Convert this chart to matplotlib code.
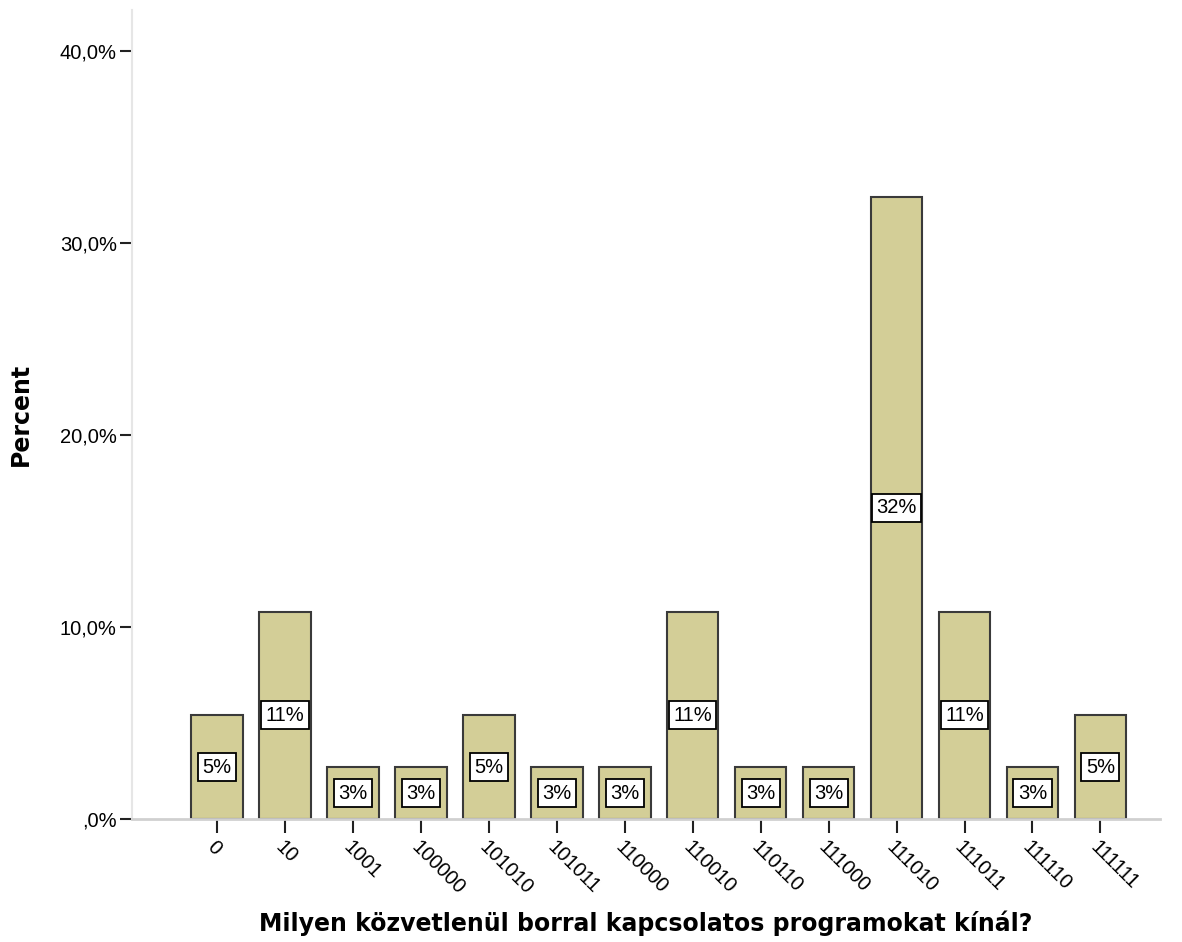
import matplotlib
matplotlib.use('Agg')
import matplotlib.pyplot as plt
from matplotlib.ticker import FuncFormatter

categories = ['0', '10', '1001', '100000', '101010', '101011', '110000',
              '110010', '110110', '111000', '111010', '111011', '111110', '111111']
percents = [5.4, 10.8, 2.7, 2.7, 5.4, 2.7, 2.7, 10.8, 2.7, 2.7, 32.4, 10.8, 2.7, 5.4]
labels = ['5%', '11%', '3%', '3%', '5%', '3%', '3%', '11%', '3%', '3%', '32%', '11%', '3%', '5%']
yticks = [0, 10, 20, 30, 40]

plt.rcParams['font.family'] = ['Liberation Sans', 'DejaVu Sans']

fig = plt.figure(figsize=(11.82, 9.42), dpi=100)
ax = fig.add_axes([0.1117, 0.1306, 0.8693, 0.8584])

x = list(range(len(categories)))
ax.bar(x, percents, width=0.76, color='#d3ce97', edgecolor='#3a3a3a', linewidth=1.5, zorder=2)

# white boxed percentage labels in the middle of each bar
for xi, p, lab in zip(x, percents, labels):
    ax.text(xi, p / 2, lab, ha='center', va='center', fontsize=14.5, zorder=3,
            bbox=dict(boxstyle='square,pad=0.22', facecolor='white', edgecolor='black', linewidth=1.3))

ax.set_xlim(-1.25, 13.87)
ax.set_ylim(0, 42.1)
ax.set_yticks(yticks)
ax.yaxis.set_major_formatter(FuncFormatter(lambda v, pos: ',0%' if v == 0 else f'{v:.1f}%'.replace('.', ',')))
ax.set_xticks(x)
ax.set_xticklabels(categories, rotation=-45, ha='left', va='top', rotation_mode='anchor')

ax.tick_params(axis='y', length=9, width=1.5, color='#222222', labelsize=14.5, pad=2)
ax.tick_params(axis='x', length=10, width=1.5, color='#222222', labelsize=14.5, pad=3)

for s in ['top', 'right']:
    ax.spines[s].set_visible(False)
ax.spines['left'].set_color('#e6e6e6')
ax.spines['bottom'].set_color('#d0d0d0')
ax.spines['left'].set_linewidth(1.5)
ax.spines['bottom'].set_linewidth(2)

ax.set_ylabel('Percent', fontsize=17, fontweight='bold', family='DejaVu Sans')
ax.yaxis.set_label_coords(-0.0963, 0.5)
ax.set_xlabel('Milyen közvetlenül borral kapcsolatos programokat kínál?', fontsize=17,
              fontweight='bold', family='DejaVu Sans')
ax.xaxis.set_label_coords(0.5, -0.1137)

fig.savefig('out.png', dpi=100)
